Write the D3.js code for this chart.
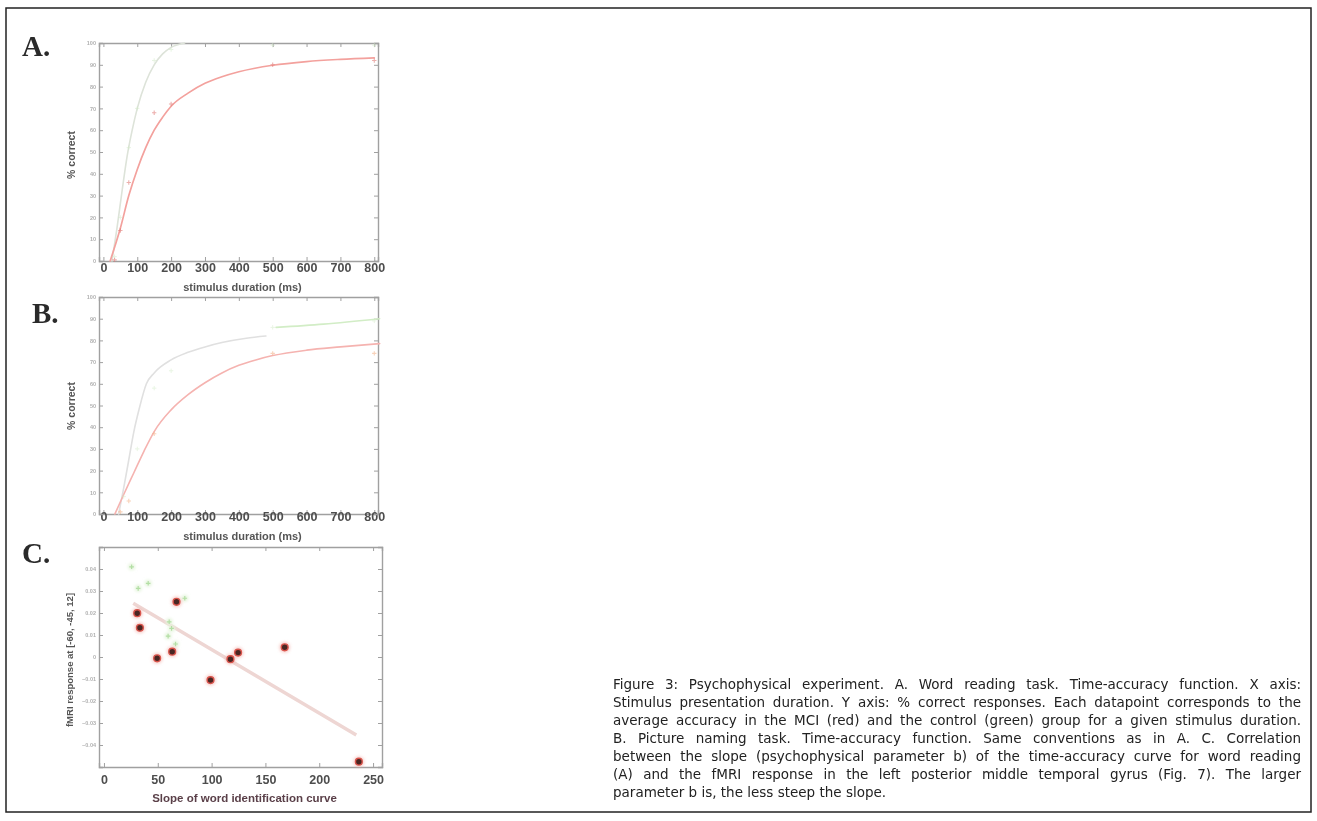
<!DOCTYPE html>
<html>
<head>
<meta charset="utf-8">
<script src="https://cdn.jsdelivr.net/npm/d3@7"></script>
<style>
  html, body { margin: 0; padding: 0; background: #fff; }
  svg { display: block; }
</style>
</head>
<body>
<svg id="fig" width="1317" height="821"></svg>
<script>
// ---------------- data ----------------
const durationTicks = [0, 100, 200, 300, 400, 500, 600, 700, 800];
const percentTicks  = [0, 10, 20, 30, 40, 50, 60, 70, 80, 90, 100];
const slopeTicks    = [0, 50, 100, 150, 200, 250];
const responseTicks = [-0.04, -0.03, -0.02, -0.01, 0, 0.01, 0.02, 0.03, 0.04];

// A. word reading — fitted time-accuracy curves (ms, % correct)
const wordMciFitMs   = [20, 50, 75, 100, 125, 150, 175, 200, 250, 300, 350, 400, 500, 600, 700, 800];
const wordMciFitPct  = [0, 15, 30, 42, 52, 60, 66, 71, 77, 81.5, 84.5, 86.8, 89.8, 91.5, 92.5, 93.2];
const wordCtlFitMs   = [25, 40, 55, 70, 85, 100, 125, 150, 175, 200, 240];
const wordCtlFitPct  = [0, 15, 32, 48, 60, 70, 82, 90, 95, 98, 100];
// A. group means
const wordMciMs  = [33, 50, 75, 150, 200, 500, 800];
const wordMciPct = [0.5, 14, 36, 68, 72, 90, 92];
const wordCtlMs  = [33, 50, 75, 100, 150, 200, 500, 800];
const wordCtlPct = [2, 20, 52, 70, 92, 97, 99, 99];

// B. picture naming — fitted curves
const picMciFitMs   = [34, 60, 90, 120, 150, 200, 250, 300, 350, 400, 450, 500, 600, 700, 816];
const picMciFitPct  = [0, 9, 19, 29, 38, 48, 55, 60.5, 65, 68.5, 71, 73, 75.5, 77, 78.5];
const picCtlFitMs   = [45, 60, 75, 90, 105, 127, 150, 200, 250, 300, 350, 422, 480];
const picCtlFitPct  = [0, 12, 25, 38, 48, 60, 65, 71, 74.5, 77, 79, 81, 82];
const picCtlTailMs  = [510, 650, 816];
const picCtlTailPct = [86, 87.5, 90];
// B. group means
const picMciMs  = [50, 75, 150, 500, 800];
const picMciPct = [1, 6, 37, 74, 74];
const picCtlMs  = [60, 100, 150, 200, 500, 800];
const picCtlPct = [8, 30, 58, 66, 86, 89];

// C. slope b of the word identification curve vs fMRI response
const mciSlope = [67.4, 30.9, 33.4, 49.4, 63.4, 99, 117.5, 124.6, 167.9, 236.8];
const mciResp  = [0.0251, 0.0199, 0.0133, -0.0006, 0.0024, -0.0105, -0.001, 0.002, 0.0044, -0.0476];
const ctlSlope = [25.7, 31.8, 41.1, 75.1, 60.6, 62.8, 59.6, 66.5];
const ctlResp  = [0.041, 0.0312, 0.0335, 0.0267, 0.016, 0.013, 0.0095, 0.0059];
const trendSlope = [27.2, 234.4];
const trendResp  = [0.0244, -0.0355];

const captionLines = [
  "Figure 3: Psychophysical experiment. A. Word reading task. Time-accuracy function. X axis:",
  "Stimulus presentation duration. Y axis: % correct responses. Each datapoint corresponds to the",
  "average accuracy in the MCI (red) and the control (green) group for a given stimulus duration.",
  "B. Picture naming task. Time-accuracy function. Same conventions as in A. C. Correlation",
  "between the slope (psychophysical parameter b) of the time-accuracy curve for word reading",
  "(A) and the fMRI response in the left posterior middle temporal gyrus (Fig. 7). The larger",
  "parameter b is, the less steep the slope."
];

// ---------------- drawing ----------------
const svg = d3.select("#fig");
const defs = svg.append("defs");
defs.append("filter").attr("id", "soft").attr("x", "-5%").attr("y", "-5%").attr("width", "110%").attr("height", "110%")
  .append("feGaussianBlur").attr("stdDeviation", 0.6);
defs.append("filter").attr("id", "halo").attr("x", "-100%").attr("y", "-100%").attr("width", "300%").attr("height", "300%")
  .append("feGaussianBlur").attr("stdDeviation", 1.5);

// outer frame
svg.append("rect").attr("x", 6).attr("y", 8).attr("width", 1305).attr("height", 804)
  .attr("fill", "none").attr("stroke", "#222").attr("stroke-width", 1.5);

const zip = (xs, ys) => xs.map((x, i) => [x, ys[i]]);

function frame(g, x, y, o) {
  const [x0, x1] = x.range();
  const [y0, y1] = y.range();
  const axisCol = "#a0a0a0";
  const bx = g.append("g").attr("transform", `translate(0,${y0})`)
    .call(d3.axisBottom(x).tickValues(o.xTicks).tickSize(-4).tickPadding(o.xPad).tickFormat(d3.format("d")));
  const tx = g.append("g").attr("transform", `translate(0,${y1})`)
    .call(d3.axisTop(x).tickValues(o.xTicks).tickSize(-4).tickFormat(""));
  const ly = g.append("g").attr("transform", `translate(${x0},0)`)
    .call(d3.axisLeft(y).tickValues(o.yTicks).tickSize(-4).tickPadding(3).tickFormat(o.yFmt));
  const ry = g.append("g").attr("transform", `translate(${x1},0)`)
    .call(d3.axisRight(y).tickValues(o.yTicks).tickSize(-4).tickFormat(""));
  [bx, tx, ly, ry].forEach(a => {
    a.select(".domain").attr("stroke", axisCol).attr("stroke-width", 1.4);
    a.selectAll(".tick line").attr("stroke", axisCol).attr("stroke-width", 1);
  });
  bx.selectAll("text").attr("fill", "#4e4e4e").attr("font-family", "Liberation Sans, Arial, sans-serif")
    .attr("font-size", 12.5).attr("font-weight", "bold");
  ly.selectAll("text").attr("fill", "#b0b0b0").attr("font-family", "Liberation Sans, Arial, sans-serif")
    .attr("font-size", 5.5).attr("font-weight", "bold");
  g.append("text").attr("x", (x0 + x1) / 2 + 4).attr("y", o.xLabelY).attr("text-anchor", "middle")
    .attr("dominant-baseline", "central")
    .attr("font-family", "Liberation Sans, Arial, sans-serif").attr("font-size", o.xLabelSize || 11)
    .attr("font-weight", "bold").attr("fill", o.xLabelCol || "#555").text(o.xLabel);
  g.append("text").attr("transform", `translate(${o.yLabelX},${o.yLabelYc}) rotate(-90)`)
    .attr("text-anchor", "middle").attr("dominant-baseline", "central")
    .attr("font-family", "Liberation Sans, Arial, sans-serif").attr("font-size", o.yLabelSize || 10.5)
    .attr("font-weight", "bold").attr("fill", "#555").text(o.yLabel);
}

function curve(g, x, y, pts, col, w, op) {
  g.append("path").datum(pts)
    .attr("d", d3.line().x(d => x(d[0])).y(d => y(d[1])).curve(d3.curveMonotoneX))
    .attr("fill", "none").attr("stroke", col).attr("stroke-width", w).attr("opacity", op == null ? 1 : op)
    .attr("stroke-linecap", "round");
}

function plus(g, x, y, pts, col, s, w, op) {
  const m = g.append("g").attr("opacity", op);
  pts.forEach(p => {
    const cx = x(p[0]), cy = y(p[1]);
    m.append("path").attr("d", `M${cx - s},${cy}H${cx + s}M${cx},${cy - s}V${cy + s}`)
      .attr("stroke", col).attr("stroke-width", w).attr("fill", "none");
  });
}

function panelLetter(t, bx, by) {
  svg.append("text").attr("x", bx).attr("y", by).attr("font-family", "Liberation Serif, Times New Roman, serif")
    .attr("font-size", 29).attr("font-weight", "bold").attr("fill", "#2a2a2a").text(t);
}

// ---- Panel A ----
const xA = d3.scaleLinear().domain([-13, 811]).range([99, 378]);
const yA = d3.scaleLinear().domain([0, 100]).range([261, 43]);
const gA = svg.append("g").attr("filter", "url(#soft)");
frame(gA, xA, yA, {
  xTicks: durationTicks, yTicks: percentTicks, xPad: 2, yFmt: d3.format("d"),
  xLabel: "stimulus duration (ms)", xLabelY: 287, yLabel: "% correct", yLabelX: 71, yLabelYc: 155
});
curve(gA, xA, yA, zip(wordCtlFitMs, wordCtlFitPct), "#dde3d9", 1.6);
curve(gA, xA, yA, zip(wordMciFitMs, wordMciFitPct), "#f3a19d", 1.7);
plus(gA, xA, yA, zip(wordCtlMs, wordCtlPct), "#cfe8c4", 2.2, 1, 0.5);
plus(gA, xA, yA, zip(wordMciMs, wordMciPct), "#e07a76", 2.2, 1.1, 0.6);

// ---- Panel B ----
const xB = d3.scaleLinear().domain([-13, 811]).range([99, 378]);
const yB = d3.scaleLinear().domain([0, 100]).range([514, 297]);
const gB = svg.append("g").attr("filter", "url(#soft)");
frame(gB, xB, yB, {
  xTicks: durationTicks, yTicks: percentTicks, xPad: -2, yFmt: d3.format("d"),
  xLabel: "stimulus duration (ms)", xLabelY: 536, yLabel: "% correct", yLabelX: 71, yLabelYc: 406
});
curve(gB, xB, yB, zip(picCtlFitMs, picCtlFitPct), "#e0e0e0", 1.6);
curve(gB, xB, yB, zip(picCtlTailMs, picCtlTailPct), "#d2edc6", 1.6);
curve(gB, xB, yB, zip(picMciFitMs, picMciFitPct), "#f5b3b0", 1.6);
plus(gB, xB, yB, zip(picCtlMs, picCtlPct), "#d3ebc8", 2.2, 1, 0.5);
plus(gB, xB, yB, zip(picMciMs, picMciPct), "#f3b58c", 2.2, 1.1, 0.6);

// ---- Panel C ----
const xC = d3.scaleLinear().domain([-4.6, 258.3]).range([99, 382]);
const yC = d3.scaleLinear().domain([-0.05, 0.05]).range([767, 547]);
const gC = svg.append("g").attr("filter", "url(#soft)");
frame(gC, xC, yC, {
  xTicks: slopeTicks, yTicks: responseTicks, xPad: 8, yFmt: d3.format(".2~f"),
  xLabel: "Slope of word identification curve", xLabelY: 798, xLabelCol: "#5a3f48", xLabelSize: 11.5,
  yLabel: "fMRI response at [-60, -45, 12]", yLabelX: 69, yLabelYc: 660, yLabelSize: 9.5
});
gC.append("path").datum(zip(trendSlope, trendResp))
  .attr("d", d3.line().x(d => xC(d[0])).y(d => yC(d[1])))
  .attr("stroke", "#eed6d3").attr("stroke-width", 3.5).attr("fill", "none");
// control group markers
const ctl = zip(ctlSlope, ctlResp);
gC.append("g").selectAll("circle").data(ctl).join("circle")
  .attr("cx", d => xC(d[0])).attr("cy", d => yC(d[1])).attr("r", 3.5)
  .attr("fill", "#e6f5de").attr("filter", "url(#halo)");
plus(gC, xC, yC, ctl, "#a6d996", 2.3, 1.2, 0.8);
// MCI group markers
const mci = zip(mciSlope, mciResp);
gC.append("g").selectAll("circle").data(mci).join("circle")
  .attr("cx", d => xC(d[0])).attr("cy", d => yC(d[1])).attr("r", 5.5)
  .attr("fill", "#f2aaa4").attr("opacity", 0.55).attr("filter", "url(#halo)");
gC.append("g").selectAll("circle").data(mci).join("circle")
  .attr("cx", d => xC(d[0])).attr("cy", d => yC(d[1])).attr("r", 3.4)
  .attr("fill", "#4a2624").attr("stroke", "#d9544c").attr("stroke-width", 1.4);

// panel letters
panelLetter("A.", 22, 56);
panelLetter("B.", 32, 323);
panelLetter("C.", 22, 563);

// ---- caption (justified) ----
const capX = 613, capW = 688, capY0 = 689, capDy = 18;
const cap = svg.append("g").attr("font-family", "DejaVu Sans, Verdana, sans-serif")
  .attr("font-size", 13.5).attr("fill", "#222");
captionLines.forEach((line, i) => {
  const t = cap.append("text").attr("x", capX).attr("y", capY0 + i * capDy).text(line);
  if (i < captionLines.length - 1) {
    const natural = t.node().getComputedTextLength();
    const spaces = (line.match(/ /g) || []).length;
    if (spaces) t.attr("word-spacing", (capW - natural) / spaces);
  }
});
</script>
</body>
</html>
